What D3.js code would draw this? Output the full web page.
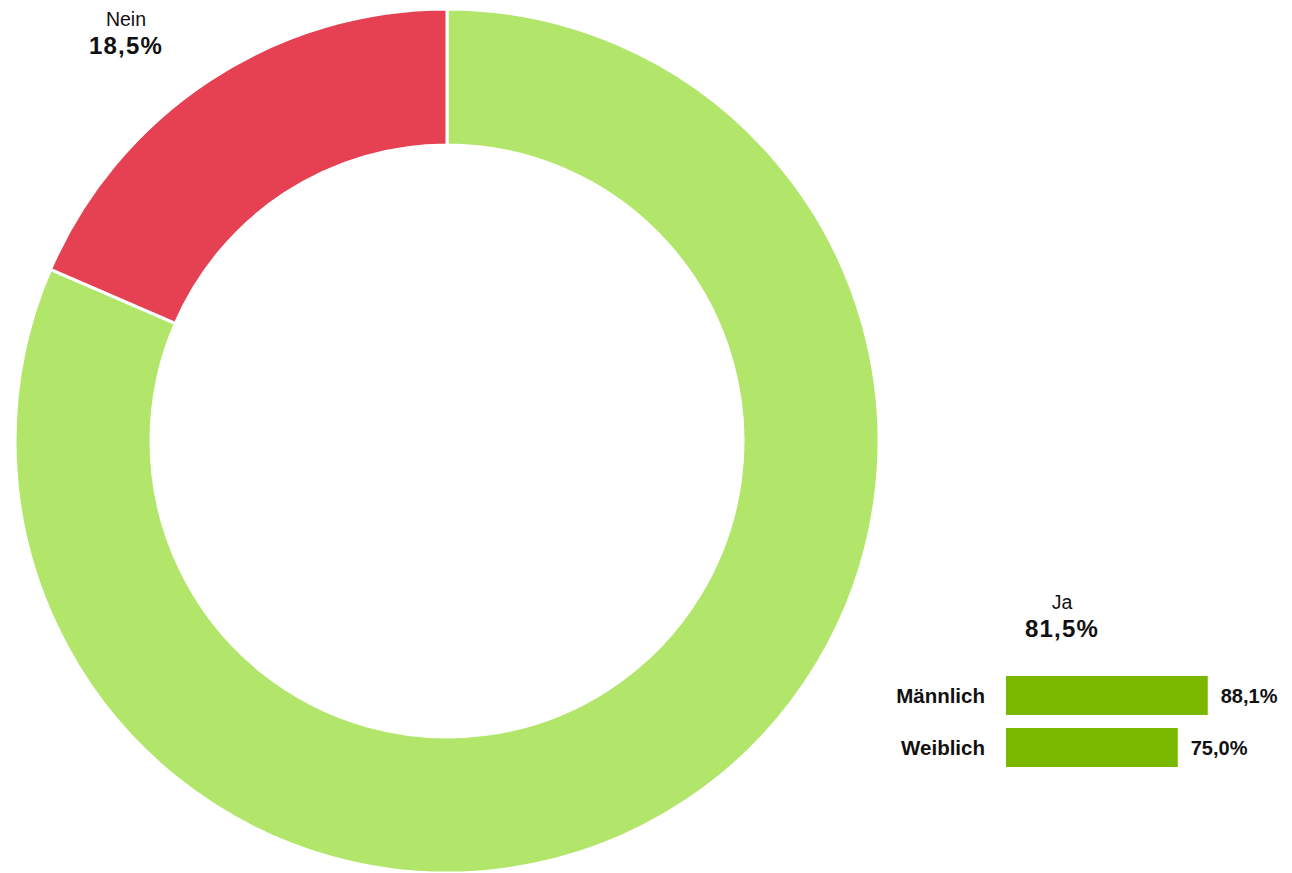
<!DOCTYPE html>
<html>
<head>
<meta charset="utf-8">
<script src="https://cdn.jsdelivr.net/npm/d3@7"></script>
<style>
  html, body { margin: 0; padding: 0; background: #fff; }
  svg { display: block; font-family: "Liberation Sans", Arial, sans-serif; }
</style>
</head>
<body>
<svg id="chart" width="1292" height="873"></svg>
<script>
// Data
const categories = ["Ja", "Nein"];
const shares = [81.5, 18.5];
const sliceColors = ["#b2e66a", "#e54152"];
const genderLabels = ["Männlich", "Weiblich"];
const genderValues = [88.1, 75.0];

const fmt = v => v.toFixed(1).replace(".", ",") + "%";

const svg = d3.select("#chart");

// Donut
const cx = 447, cy = 441, rOuter = 432, rInner = 296;
const pie = d3.pie().sort(null).value(d => d.value).startAngle(0).endAngle(2 * Math.PI);
const arcs = pie(categories.map((c, i) => ({ name: c, value: shares[i], color: sliceColors[i] })));
const arc = d3.arc().innerRadius(rInner).outerRadius(rOuter);

const g = svg.append("g").attr("transform", `translate(${cx},${cy})`);
g.selectAll("path").data(arcs).join("path")
  .attr("d", arc)
  .attr("fill", d => d.data.color)
  .attr("stroke", "#fff")
  .attr("stroke-width", 3)
  .attr("stroke-linejoin", "miter");

// Slice labels
const labelPos = { "Nein": [126, 26], "Ja": [1062, 609] };
arcs.forEach(d => {
  const [lx, ly] = labelPos[d.data.name];
  const t = svg.append("g").attr("text-anchor", "middle");
  t.append("text").attr("x", lx).attr("y", ly)
    .attr("font-size", 19.5).attr("fill", "#111").text(d.data.name);
  t.append("text").attr("x", lx).attr("y", ly + 28)
    .attr("font-size", 24).attr("font-weight", "bold").attr("letter-spacing", 1.2)
    .attr("fill", "#111").text(fmt(d.data.value));
});

// Gender bar chart
const barX0 = 1006;
const x = d3.scaleLinear().domain([0, 100]).range([barX0, barX0 + 229]);
const y = d3.scaleBand().domain(genderLabels).range([676, 767]).paddingInner(0.25).paddingOuter(0);

const bars = svg.append("g");
bars.selectAll("rect").data(genderLabels).join("rect")
  .attr("x", x(0))
  .attr("y", d => y(d))
  .attr("width", (d, i) => x(genderValues[i]) - x(0))
  .attr("height", y.bandwidth())
  .attr("fill", "#7ab800");

bars.selectAll("text.cat").data(genderLabels).join("text")
  .attr("class", "cat")
  .attr("x", x(0) - 21)
  .attr("y", d => y(d) + y.bandwidth() / 2 + 7)
  .attr("text-anchor", "end")
  .attr("font-size", 20.5).attr("font-weight", "bold").attr("fill", "#111")
  .text(d => d);

bars.selectAll("text.val").data(genderLabels).join("text")
  .attr("class", "val")
  .attr("x", (d, i) => x(genderValues[i]) + 13)
  .attr("y", d => y(d) + y.bandwidth() / 2 + 7)
  .attr("font-size", 20).attr("font-weight", "bold").attr("fill", "#111")
  .text((d, i) => fmt(genderValues[i]));
</script>
</body>
</html>
